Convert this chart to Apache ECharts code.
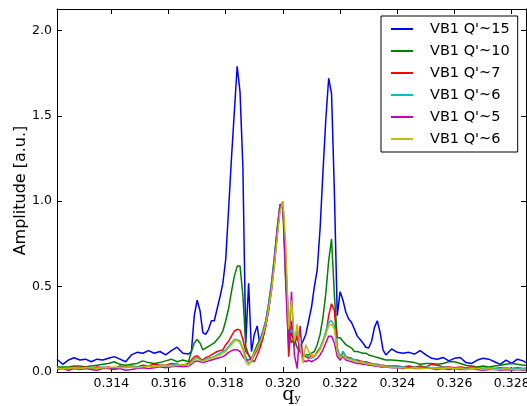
<!DOCTYPE html>
<html><head><meta charset="utf-8">
<script src="https://cdn.jsdelivr.net/npm/echarts@6/dist/echarts.min.js"></script>
<style>html,body{margin:0;padding:0;background:#fff}#c{width:527px;height:406px}</style>
</head><body><div id="c"></div>
<script>
const qy = [0.3121,0.3123,0.3125,0.3127,0.3129,0.3131,0.3133,0.3135,0.3137,0.3139,0.3141,0.3143,0.3145,0.3147,0.3149,0.3151,0.3153,0.3155,0.3157,0.3159,0.3161,0.3163,0.3165,0.3167,
0.3168,0.3169,0.3170,0.3171,0.3172,0.3173,0.3174,0.3175,0.3176,0.3177,0.3178,0.3179,0.3180,0.3181,0.3182,0.3183,0.3184,0.3185,0.3186,0.3187,0.3188,0.3189,0.3190,0.3191,0.3192,0.3193,0.3194,0.3195,0.3196,0.3197,0.3198,0.3199,0.3200,0.3201,0.3202,0.3203,0.3204,0.3205,0.3206,0.3207,0.3208,0.3209,0.3210,0.3211,0.3212,0.3213,0.3214,0.3215,0.3216,0.3217,0.3218,0.3219,0.3220,0.3221,0.3222,0.3223,0.3224,0.3225,0.3226,0.3227,0.3228,0.3229,0.3230,0.3231,0.3232,0.3233,0.3234,0.3235,0.3236,
0.3238,0.3240,0.3242,0.3244,0.3246,0.3248,0.3250,0.3252,0.3254,0.3256,0.3258,0.3260,0.3262,0.3264,0.3266,0.3268,0.3270,0.3272,0.3274,0.3276,0.3278,0.3280,0.3282,0.3284,0.3285];

const vb1_q15 = [0.075,0.045,0.07,0.083,0.07,0.075,0.06,0.075,0.07,0.08,0.09,0.075,0.06,0.10,0.115,0.11,0.125,0.11,0.12,0.10,0.125,0.145,0.11,0.105,
0.12,0.33,0.42,0.36,0.23,0.22,0.25,0.30,0.30,0.37,0.44,0.52,0.66,0.95,1.25,1.52,1.79,1.64,1.20,0.17,0.52,0.12,0.22,0.27,0.15,0.20,0.27,0.36,0.48,0.63,0.80,0.97,0.98,0.65,0.27,0.22,0.18,0.20,0.15,0.18,0.22,0.30,0.38,0.50,0.60,0.84,1.17,1.48,1.72,1.63,1.05,0.33,0.47,0.42,0.35,0.31,0.29,0.25,0.21,
0.19,0.17,0.145,0.14,0.18,0.26,0.30,0.23,0.13,0.10,
0.135,0.115,0.11,0.115,0.105,0.125,0.10,0.08,0.075,0.085,0.065,0.08,0.085,0.055,0.05,0.07,0.08,0.075,0.06,0.045,0.07,0.05,0.075,0.065,0.055];

const vb1_q10 = [0.03,0.03,0.03,0.035,0.035,0.03,0.035,0.04,0.045,0.05,0.06,0.045,0.04,0.045,0.05,0.065,0.055,0.05,0.055,0.065,0.075,0.06,0.07,0.06,
0.12,0.17,0.19,0.17,0.13,0.14,0.15,0.16,0.17,0.19,0.21,0.24,0.30,0.37,0.47,0.56,0.62,0.62,0.45,0.15,0.10,0.07,0.12,0.16,0.19,0.24,0.30,0.40,0.52,0.67,0.84,0.98,0.97,0.55,0.25,0.17,0.20,0.14,0.12,0.10,0.10,0.10,0.11,0.12,0.16,0.22,0.32,0.46,0.65,0.78,0.45,0.20,0.20,0.18,0.16,0.15,0.14,0.12,0.12,
0.115,0.11,0.11,0.10,0.095,0.09,0.085,0.08,0.075,0.07,
0.07,0.068,0.064,0.06,0.055,0.045,0.05,0.05,0.045,0.05,0.06,0.06,0.05,0.04,0.035,0.03,0.035,0.03,0.035,0.04,0.045,0.05,0.045,0.04,0.04];

const vb1_q7 = [0.02,0.025,0.02,0.03,0.025,0.03,0.02,0.03,0.025,0.03,0.02,0.035,0.03,0.035,0.03,0.04,0.035,0.045,0.04,0.04,0.05,0.045,0.04,0.05,
0.07,0.09,0.095,0.08,0.07,0.085,0.09,0.10,0.11,0.12,0.125,0.13,0.16,0.18,0.21,0.24,0.25,0.245,0.19,0.12,0.10,0.07,0.06,0.10,0.14,0.20,0.27,0.37,0.49,0.64,0.82,0.96,1.0,0.62,0.09,0.30,0.15,0.22,0.12,0.10,0.09,0.08,0.10,0.09,0.12,0.14,0.18,0.22,0.33,0.40,0.36,0.14,0.07,0.12,0.09,0.085,0.08,0.07,0.07,
0.065,0.06,0.06,0.055,0.05,0.045,0.045,0.04,0.04,0.035,
0.035,0.035,0.03,0.035,0.03,0.035,0.03,0.045,0.04,0.03,0.03,0.025,0.03,0.025,0.03,0.025,0.02,0.025,0.02,0.025,0.02,0.02,0.025,0.02,0.02];

const vb1_q6a = [0.02,0.02,0.025,0.02,0.025,0.02,0.025,0.02,0.03,0.02,0.025,0.03,0.025,0.03,0.03,0.03,0.035,0.03,0.04,0.035,0.04,0.045,0.04,0.045,
0.06,0.08,0.085,0.075,0.065,0.075,0.08,0.085,0.09,0.10,0.11,0.12,0.13,0.15,0.17,0.19,0.19,0.18,0.14,0.09,0.05,0.06,0.10,0.14,0.18,0.23,0.30,0.40,0.52,0.67,0.84,0.98,0.99,0.62,0.22,0.25,0.20,0.24,0.14,0.10,0.10,0.09,0.08,0.09,0.11,0.14,0.18,0.24,0.29,0.30,0.27,0.14,0.09,0.12,0.09,0.08,0.08,0.07,0.065,
0.06,0.06,0.055,0.05,0.05,0.045,0.04,0.04,0.035,0.035,
0.03,0.03,0.03,0.025,0.03,0.025,0.03,0.025,0.025,0.03,0.025,0.02,0.025,0.02,0.025,0.02,0.02,0.025,0.02,0.02,0.025,0.02,0.02,0.02,0.02];

const vb1_q5 = [0.015,0.02,0.01,0.02,0.015,0.02,0.015,0.01,0.02,0.02,0.015,0.02,0.01,0.015,0.02,0.025,0.02,0.025,0.03,0.025,0.03,0.035,0.03,0.035,
0.045,0.06,0.065,0.06,0.055,0.06,0.065,0.07,0.075,0.08,0.085,0.09,0.10,0.115,0.125,0.13,0.13,0.12,0.09,0.07,0.07,0.08,0.10,0.13,0.17,0.22,0.29,0.38,0.50,0.65,0.83,0.98,0.97,0.50,0.15,0.47,0.10,0.02,0.27,0.07,0.06,0.07,0.06,0.07,0.08,0.10,0.13,0.17,0.21,0.21,0.17,0.09,0.07,0.09,0.07,0.065,0.06,0.055,0.05,
0.05,0.045,0.045,0.04,0.04,0.035,0.035,0.03,0.03,0.03,
0.025,0.025,0.02,0.025,0.02,0.02,0.025,0.02,0.015,0.02,0.015,0.02,0.015,0.015,0.02,0.015,0.01,0.015,0.015,0.01,0.015,0.01,0.015,0.01,0.01];

const vb1_q6b = [0.02,0.02,0.02,0.025,0.02,0.025,0.025,0.02,0.025,0.025,0.03,0.025,0.03,0.03,0.025,0.03,0.035,0.03,0.035,0.04,0.035,0.04,0.045,0.04,
0.055,0.07,0.08,0.07,0.06,0.07,0.075,0.08,0.085,0.095,0.10,0.11,0.12,0.14,0.16,0.18,0.185,0.17,0.13,0.06,0.04,0.07,0.11,0.14,0.17,0.22,0.28,0.37,0.48,0.62,0.79,0.94,1.0,0.75,0.25,0.42,0.18,0.28,0.15,0.05,0.16,0.12,0.10,0.09,0.11,0.13,0.17,0.22,0.27,0.28,0.25,0.12,0.08,0.10,0.08,0.075,0.07,0.065,0.06,
0.055,0.055,0.05,0.045,0.045,0.04,0.04,0.035,0.035,0.03,
0.028,0.025,0.025,0.02,0.025,0.02,0.02,0.025,0.02,0.02,0.025,0.02,0.02,0.015,0.02,0.02,0.015,0.02,0.015,0.015,0.02,0.015,0.015,0.015,0.015];

const seriesNames = ["VB1 Q'~15","VB1 Q'~10","VB1 Q'~7","VB1 Q'~6","VB1 Q'~5","VB1 Q'~6 "];
const seriesValues = [vb1_q15, vb1_q10, vb1_q7, vb1_q6a, vb1_q5, vb1_q6b];
const seriesColors = ['#0000ff','#008000','#ff0000','#00bfbf','#bf00bf','#bfbf00'];
const xTicks = [0.314,0.316,0.318,0.320,0.322,0.324,0.326,0.328];
const yTicks = [0,0.5,1.0,1.5,2.0];

const FONT = 'DejaVu Sans';
const chart = echarts.init(document.getElementById('c'), null, {renderer:'canvas'});
const tickCommon = (vals) => ({show:true, inside:true, length:5, customValues:vals, lineStyle:{color:'#000', width:1}});
const option = {
  animation:false,
  backgroundColor:'#fff',
  grid:{left:57, right:1, top:9, bottom:34, show:false, containLabel:false, outerBoundsMode:'none'},
  legend:{
    orient:'vertical', left:381, top:16, width:137,
    padding:[5,8,5,10], itemGap:6, itemWidth:22, itemHeight:2,
    borderColor:'#000', borderWidth:1, backgroundColor:'#fff',
    icon:'rect',
    textStyle:{fontFamily:FONT, fontSize:14.5, color:'#000', lineHeight:16, padding:[0,0,0,12]},
    formatter: n => n.trim(),
    data: seriesNames.map((n,i)=>({name:n, itemStyle:{color:seriesColors[i]}}))
  },
  xAxis:[
    {type:'value', position:'bottom', min:0.3121, max:0.3285,
     axisLine:{show:true, onZero:false, lineStyle:{color:'#000', width:1}},
     axisTick:tickCommon(xTicks),
     axisLabel:{customValues:xTicks, formatter:v=>v.toFixed(3), color:'#000', fontFamily:FONT, fontSize:12.5, margin:5},
     splitLine:{show:false},
     name:'{q|q}{s|y}', nameLocation:'middle', nameGap:13, nameMoveOverlap:false,
     nameTextStyle:{verticalAlign:'top', rich:{q:{fontFamily:'DejaVu Serif', fontSize:19, color:'#000', lineHeight:20}, s:{fontFamily:'DejaVu Serif', fontSize:11, color:'#000', lineHeight:20, verticalAlign:'bottom', padding:[6,0,0,0]}}}
    },
    {type:'value', position:'top', min:0.3121, max:0.3285,
     axisLine:{show:true, onZero:false, lineStyle:{color:'#000', width:1}},
     axisTick:tickCommon(xTicks), axisLabel:{show:false}, splitLine:{show:false}}
  ],
  yAxis:[
    {type:'value', position:'left', min:0, max:2.125,
     axisLine:{show:true, onZero:false, lineStyle:{color:'#000', width:1}},
     axisTick:tickCommon(yTicks),
     axisLabel:{customValues:yTicks, formatter:v=>v.toFixed(1), color:'#000', fontFamily:FONT, fontSize:12.5, margin:5},
     splitLine:{show:false},
     name:'Amplitude [a.u.]', nameLocation:'middle', nameGap:28, nameRotate:90, nameMoveOverlap:false,
     nameTextStyle:{fontFamily:FONT, fontSize:16, color:'#000'}
    },
    {type:'value', position:'right', min:0, max:2.125,
     axisLine:{show:true, onZero:false, lineStyle:{color:'#000', width:1}},
     axisTick:tickCommon(yTicks), axisLabel:{show:false}, splitLine:{show:false}}
  ],
  series: seriesNames.map((n,i)=>({
    name:n, type:'line', xAxisIndex:0, yAxisIndex:0,
    data: qy.map((x,k)=>[x, seriesValues[i][k]]),
    showSymbol:false, symbol:'none', smooth:false,
    lineStyle:{color:seriesColors[i], width:1.5},
    itemStyle:{color:seriesColors[i]},
    clip:true
  }))
};
seriesValues.forEach((s,i)=>{ if (s.length!==qy.length) console.error('length mismatch', i, s.length, qy.length); });
chart.setOption(option);
</script></body></html>
